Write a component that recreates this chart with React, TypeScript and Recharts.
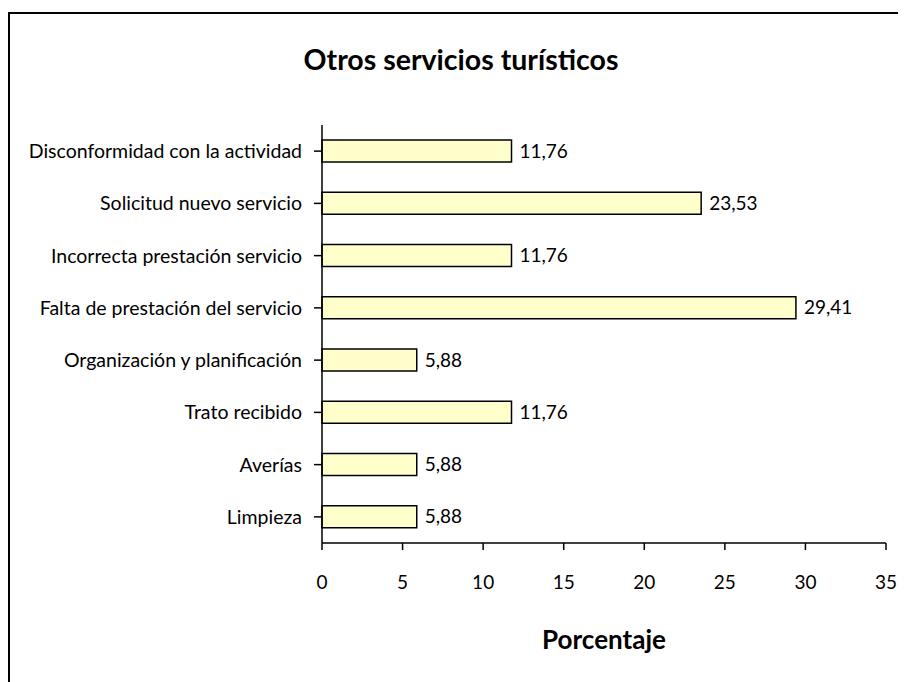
import { BarChart, Bar, XAxis, YAxis, LabelList } from 'recharts';

const categories = [
  'Disconformidad con la actividad',
  'Solicitud nuevo servicio',
  'Incorrecta prestación servicio',
  'Falta de prestación del servicio',
  'Organización y planificación',
  'Trato recibido',
  'Averías',
  'Limpieza',
];

const percentages = [11.76, 23.53, 11.76, 29.41, 5.88, 11.76, 5.88, 5.88];

const xTicks = [0, 5, 10, 15, 20, 25, 30, 35];

const FONT = 'Lato, "Open Sans", sans-serif';

const data = categories.map((name, i) => ({ name, value: percentages[i] }));

const formatPct = (v: number) => v.toFixed(2).replace('.', ',');

export default function App() {
  return (
    <div style={{ position: 'relative', width: 898, height: 674, overflow: 'hidden', fontFamily: FONT }}>
      {/* frame runs off the right and bottom edges */}
      <div
        style={{
          position: 'absolute',
          left: 0,
          top: 4,
          width: 940,
          height: 720,
          border: '2px solid #000',
          boxSizing: 'border-box',
        }}
      />
      <div
        style={{
          position: 'absolute',
          left: 0,
          top: 34,
          width: 906,
          textAlign: 'center',
          fontSize: 28.5,
          fontWeight: 700,
          color: '#000',
        }}
      >
        Otros servicios turísticos
      </div>
      <div style={{ position: 'absolute', left: 0, top: 0 }}>
        <BarChart
          width={898}
          height={674}
          data={data}
          layout="vertical"
          margin={{ top: 117, right: 20, bottom: 109, left: 14 }}
        >
          <XAxis
            type="number"
            domain={[0, 35]}
            ticks={xTicks}
            interval={0}
            height={30}
            tickSize={7}
            tickMargin={26}
            axisLine={{ stroke: '#000', strokeWidth: 1.5 }}
            tickLine={{ stroke: '#000', strokeWidth: 1.5 }}
            tick={{ fill: '#000', fontSize: 19, fontFamily: FONT }}
            label={{
              value: 'Porcentaje',
              position: 'insideBottom',
              offset: -76,
              style: { fill: '#000', fontSize: 26, fontWeight: 700, fontFamily: FONT },
            }}
          />
          <YAxis
            type="category"
            dataKey="name"
            width={300}
            interval={0}
            tickSize={8}
            tickMargin={12}
            axisLine={{ stroke: '#000', strokeWidth: 1.5 }}
            tickLine={{ stroke: '#000', strokeWidth: 1.5 }}
            tick={{ fill: '#000', fontSize: 19.5, fontFamily: FONT }}
          />
          <Bar dataKey="value" fill="#FFFFCC" stroke="#000" strokeWidth={1.5} barSize={22} isAnimationActive={false}>
            <LabelList
              dataKey="value"
              position="right"
              offset={8}
              formatter={(v: number) => formatPct(v)}
              style={{ fill: '#000', fontSize: 19, fontFamily: FONT }}
            />
          </Bar>
        </BarChart>
      </div>
    </div>
  );
}
